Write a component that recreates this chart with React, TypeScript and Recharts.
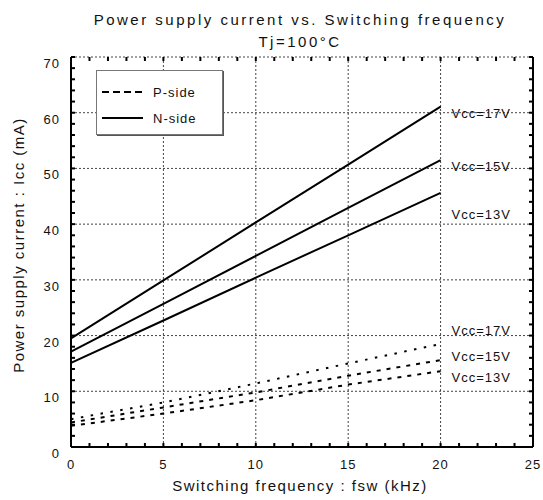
import { FC } from 'react';
import { LineChart, Line, XAxis, YAxis, ReferenceDot, Label } from 'recharts';

// switching frequency (kHz)
const fsw = [0, 5, 10, 15, 20];

// N-side Icc (mA), read at each 5 kHz gridline
const nVcc17 = [19.5, 29.9, 40.3, 50.7, 61.1];
const nVcc15 = [17.1, 25.7, 34.3, 42.9, 51.5];
const nVcc13 = [15.1, 22.7, 30.4, 38.0, 45.6];

// P-side Icc (mA)
const pVcc17 = [5.0, 8.0, 11.4, 15.0, 18.5];
const pVcc15 = [4.4, 7.1, 9.8, 12.8, 15.6];
const pVcc13 = [3.8, 6.0, 8.4, 11.2, 13.6];

const xTicks = Array.from({ length: 26 }, (_, i) => i);
const yTicks = Array.from({ length: 36 }, (_, i) => i * 2);
const xGrid = [5, 10, 15, 20];
const yGrid = [10, 20, 30, 40, 50, 60];

// where the Vcc labels sit (data units, at fsw = 20)
const vccLabels = [
  { text: 'Vcc=17V', y: 60.0 },
  { text: 'Vcc=15V', y: 50.4 },
  { text: 'Vcc=13V', y: 41.8 },
  { text: 'Vcc=17V', y: 21.0 },
  { text: 'Vcc=15V', y: 16.3 },
  { text: 'Vcc=13V', y: 12.6 },
];

const data = fsw.map((x, i) => ({
  fsw: x,
  n17: nVcc17[i],
  n15: nVcc15[i],
  n13: nVcc13[i],
  p17: pVcc17[i],
  p15: pVcc15[i],
  p13: pVcc13[i],
}));

const nKeys = ['n17', 'n15', 'n13'];
const pKeys = [
  { key: 'p17', dash: '2.5 7.5' },
  { key: 'p15', dash: '4 6' },
  { key: 'p13', dash: '4 6' },
];

// plot box
const W = 543;
const H = 500;
const TOP = 57;
const PLOT_H = 390;
const LEFT = 71;
const PLOT_W = 462;
const X_MAX = 25;
const Y_MAX = 70;

// pixel helpers for the frame decoration (grid, border, inward ticks)
const px = (v: number) => LEFT + (v / X_MAX) * PLOT_W;
const py = (v: number) => TOP + PLOT_H * (1 - v / Y_MAX);

const FONT = '"Liberation Sans", Arial, sans-serif';
const textStyle = { fontFamily: FONT, fontSize: 13, letterSpacing: 1, fill: '#111' };

const BottomTick = ({ x, payload }: any) =>
  payload.value % 5 === 0 ? (
    <text x={x} y={TOP + PLOT_H + 22} textAnchor="middle" style={textStyle}>
      {payload.value}
    </text>
  ) : (
    <g />
  );

const LeftTick = ({ y, payload }: any) =>
  payload.value % 10 === 0 ? (
    <text x={LEFT - 11} y={y + 11} textAnchor="end" style={textStyle}>
      {payload.value}
    </text>
  ) : (
    <g />
  );

const vccLabel = (text: string) => (props: any) => (
  <text x={props.viewBox.x + 11} y={props.viewBox.y + 5} style={textStyle}>
    {text}
  </text>
);

const Titles = () => (
  <g>
    <text x={300} y={25} textAnchor="middle" style={{ ...textStyle, fontSize: 15, letterSpacing: 2.5 }}>
      Power supply current vs. Switching frequency
    </text>
    <text x={300} y={47} textAnchor="middle" style={{ ...textStyle, fontSize: 15, letterSpacing: 2.5 }}>
      Tj=100°C
    </text>
    <text x={300} y={491} textAnchor="middle" style={{ ...textStyle, fontSize: 15, letterSpacing: 1.5 }}>
      Switching frequency : fsw (kHz)
    </text>
    <text
      x={24}
      y={245}
      textAnchor="middle"
      transform="rotate(-90 24 245)"
      style={{ ...textStyle, fontSize: 15, letterSpacing: 1.5 }}
    >
      Power supply current : Icc (mA)
    </text>
  </g>
);

const gridStyle = { stroke: '#444', strokeWidth: 1, strokeDasharray: '2 2' };
const tickStyle = { stroke: '#000', strokeWidth: 2 };

const gridLines = [
  ...xGrid.map((v) => (
    <line key={`gx${v}`} x1={px(v)} y1={TOP} x2={px(v)} y2={TOP + PLOT_H} {...gridStyle} />
  )),
  ...[...yGrid, Y_MAX].map((v) => (
    <line key={`gy${v}`} x1={LEFT} y1={py(v)} x2={LEFT + PLOT_W} y2={py(v)} {...gridStyle} />
  )),
];

const tickMarks = [
  ...xTicks.map((v) => (
    <line key={`tb${v}`} x1={px(v)} y1={TOP + PLOT_H} x2={px(v)} y2={TOP + PLOT_H - 4} {...tickStyle} />
  )),
  ...xTicks.map((v) => (
    <line key={`tt${v}`} x1={px(v)} y1={TOP} x2={px(v)} y2={TOP + 4} {...tickStyle} />
  )),
  ...yTicks.map((v) => <line key={`tl${v}`} x1={LEFT} y1={py(v)} x2={LEFT + 4} y2={py(v)} {...tickStyle} />),
  ...yTicks.map((v) => (
    <line key={`tr${v}`} x1={LEFT + PLOT_W} y1={py(v)} x2={LEFT + PLOT_W - 4} y2={py(v)} {...tickStyle} />
  )),
  <line key="right" x1={LEFT + PLOT_W} y1={TOP} x2={LEFT + PLOT_W} y2={TOP + PLOT_H} {...tickStyle} />,
];

const LegendBox = () => (
  <div
    style={{
      position: 'absolute',
      left: 96,
      top: 70,
      width: 125,
      height: 63,
      border: '1px solid #777',
      boxShadow: '1px 1px 0 #555',
      background: '#fff',
    }}
  >
    <svg width={125} height={63} style={{ position: 'absolute', left: 0, top: 0 }}>
      <line x1={5} y1={21} x2={46} y2={21} stroke="#000" strokeWidth={2} strokeDasharray="7 4" />
      <line x1={5} y1={47} x2={46} y2={47} stroke="#000" strokeWidth={2} />
      <text x={56} y={26} style={textStyle}>
        P-side
      </text>
      <text x={56} y={52} style={textStyle}>
        N-side
      </text>
    </svg>
  </div>
);

const App: FC = () => {
  return (
    <div style={{ position: 'absolute', left: 0, top: 0, background: '#fff' }}>
      <LineChart
        width={W}
        height={H}
        data={data}
        margin={{ top: TOP, right: W - LEFT - PLOT_W, bottom: 0, left: 0 }}
      >
        {gridLines}
        <XAxis
          type="number"
          dataKey="fsw"
          domain={[0, X_MAX]}
          ticks={xTicks}
          interval={0}
          height={H - TOP - PLOT_H}
          tickSize={0}
          tickMargin={0}
          tickLine={false}
          tick={<BottomTick />}
          axisLine={{ stroke: '#000', strokeWidth: 2 }}
        >
          <Label content={() => <Titles />} />
        </XAxis>
        <YAxis
          type="number"
          domain={[0, Y_MAX]}
          ticks={yTicks}
          interval={0}
          width={LEFT}
          tickSize={0}
          tickMargin={0}
          tickLine={false}
          tick={<LeftTick />}
          axisLine={{ stroke: '#000', strokeWidth: 2 }}
        />
        {nKeys.map((k) => (
          <Line key={k} dataKey={k} stroke="#000" strokeWidth={2} dot={false} isAnimationActive={false} />
        ))}
        {pKeys.map((s) => (
          <Line
            key={s.key}
            dataKey={s.key}
            stroke="#000"
            strokeWidth={2}
            strokeDasharray={s.dash}
            dot={false}
            isAnimationActive={false}
          />
        ))}
        {vccLabels.map((l, i) => (
          <ReferenceDot key={`l${i}`} x={20} y={l.y} r={0} ifOverflow="visible" label={vccLabel(l.text)} />
        ))}
        {tickMarks}
      </LineChart>
      <LegendBox />
    </div>
  );
};

export default App;
